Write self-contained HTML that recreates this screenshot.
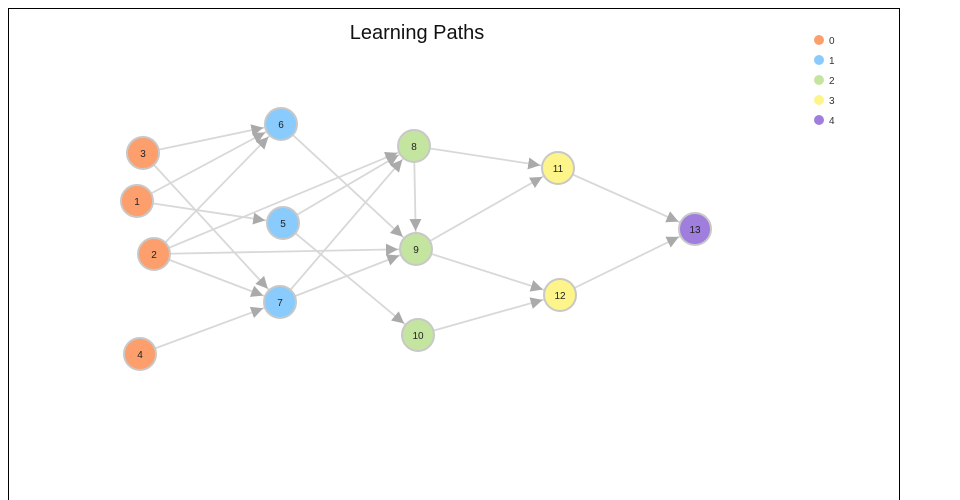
<!DOCTYPE html>
<html><head><style>
body{margin:0;background:#fff;width:960px;height:500px;overflow:hidden;font-family:"Liberation Sans",sans-serif}
</style></head><body>
<svg width="960" height="500" xmlns="http://www.w3.org/2000/svg" style="position:absolute;left:0;top:0">
<defs><marker id="a" viewBox="0 0 10 10" refX="25" refY="5" markerWidth="12" markerHeight="12" markerUnits="userSpaceOnUse" orient="auto"><path d="M0,0L10,5L0,10z" fill="#aaa"/></marker></defs>
<rect x="8.5" y="8.5" width="891" height="500" fill="none" stroke="#000" stroke-width="1"/>
<text x="417" y="39" text-anchor="middle" font-size="20" fill="#111">Learning Paths</text>
<g stroke="#d8d8d8" stroke-width="1.8" marker-end="url(#a)">
<line x1="143" y1="153" x2="281" y2="124"/>
<line x1="143" y1="153" x2="280" y2="302"/>
<line x1="137" y1="201" x2="281" y2="124"/>
<line x1="137" y1="201" x2="283" y2="223"/>
<line x1="154" y1="254" x2="281" y2="124"/>
<line x1="154" y1="254" x2="414" y2="146"/>
<line x1="154" y1="254" x2="416" y2="249"/>
<line x1="154" y1="254" x2="280" y2="302"/>
<line x1="140" y1="354" x2="280" y2="302"/>
<line x1="281" y1="124" x2="416" y2="249"/>
<line x1="283" y1="223" x2="414" y2="146"/>
<line x1="283" y1="223" x2="418" y2="335"/>
<line x1="280" y1="302" x2="414" y2="146"/>
<line x1="280" y1="302" x2="416" y2="249"/>
<line x1="414" y1="146" x2="416" y2="249"/>
<line x1="414" y1="146" x2="558" y2="168"/>
<line x1="416" y1="249" x2="558" y2="168"/>
<line x1="416" y1="249" x2="560" y2="295"/>
<line x1="418" y1="335" x2="560" y2="295"/>
<line x1="558" y1="168" x2="695" y2="229"/>
<line x1="560" y1="295" x2="695" y2="229"/>
</g>
<g stroke="#c8c8c8" stroke-width="2" font-size="10" text-anchor="middle">
<g fill="#fc9f6c"><circle cx="143" cy="153" r="16"/><circle cx="137" cy="201" r="16"/><circle cx="154" cy="254" r="16"/><circle cx="140" cy="354" r="16"/></g>
<g fill="#88cbfc"><circle cx="281" cy="124" r="16"/><circle cx="283" cy="223" r="16"/><circle cx="280" cy="302" r="16"/></g>
<g fill="#c3e5a0"><circle cx="414" cy="146" r="16"/><circle cx="416" cy="249" r="16"/><circle cx="418" cy="335" r="16"/></g>
<g fill="#fdf48a"><circle cx="558" cy="168" r="16"/><circle cx="560" cy="295" r="16"/></g>
<circle cx="695" cy="229" r="16" fill="#a07ede"/>
<g stroke="none" fill="#222">
<text x="143" y="157">3</text><text x="137" y="205">1</text><text x="154" y="258">2</text><text x="140" y="358">4</text>
<text x="281" y="128">6</text><text x="283" y="227">5</text><text x="280" y="306">7</text>
<text x="414" y="150">8</text><text x="416" y="253">9</text><text x="418" y="339">10</text>
<text x="558" y="172">11</text><text x="560" y="299">12</text><text x="695" y="233">13</text>
</g></g>
<g font-size="10" fill="#333">
<circle cx="819" cy="40" r="5" fill="#fc9f6c"/><text x="829" y="44">0</text>
<circle cx="819" cy="60" r="5" fill="#88cbfc"/><text x="829" y="64">1</text>
<circle cx="819" cy="80" r="5" fill="#c3e5a0"/><text x="829" y="84">2</text>
<circle cx="819" cy="100" r="5" fill="#fdf48a"/><text x="829" y="104">3</text>
<circle cx="819" cy="120" r="5" fill="#a07ede"/><text x="829" y="124">4</text>
</g>
</svg>
</body></html>
